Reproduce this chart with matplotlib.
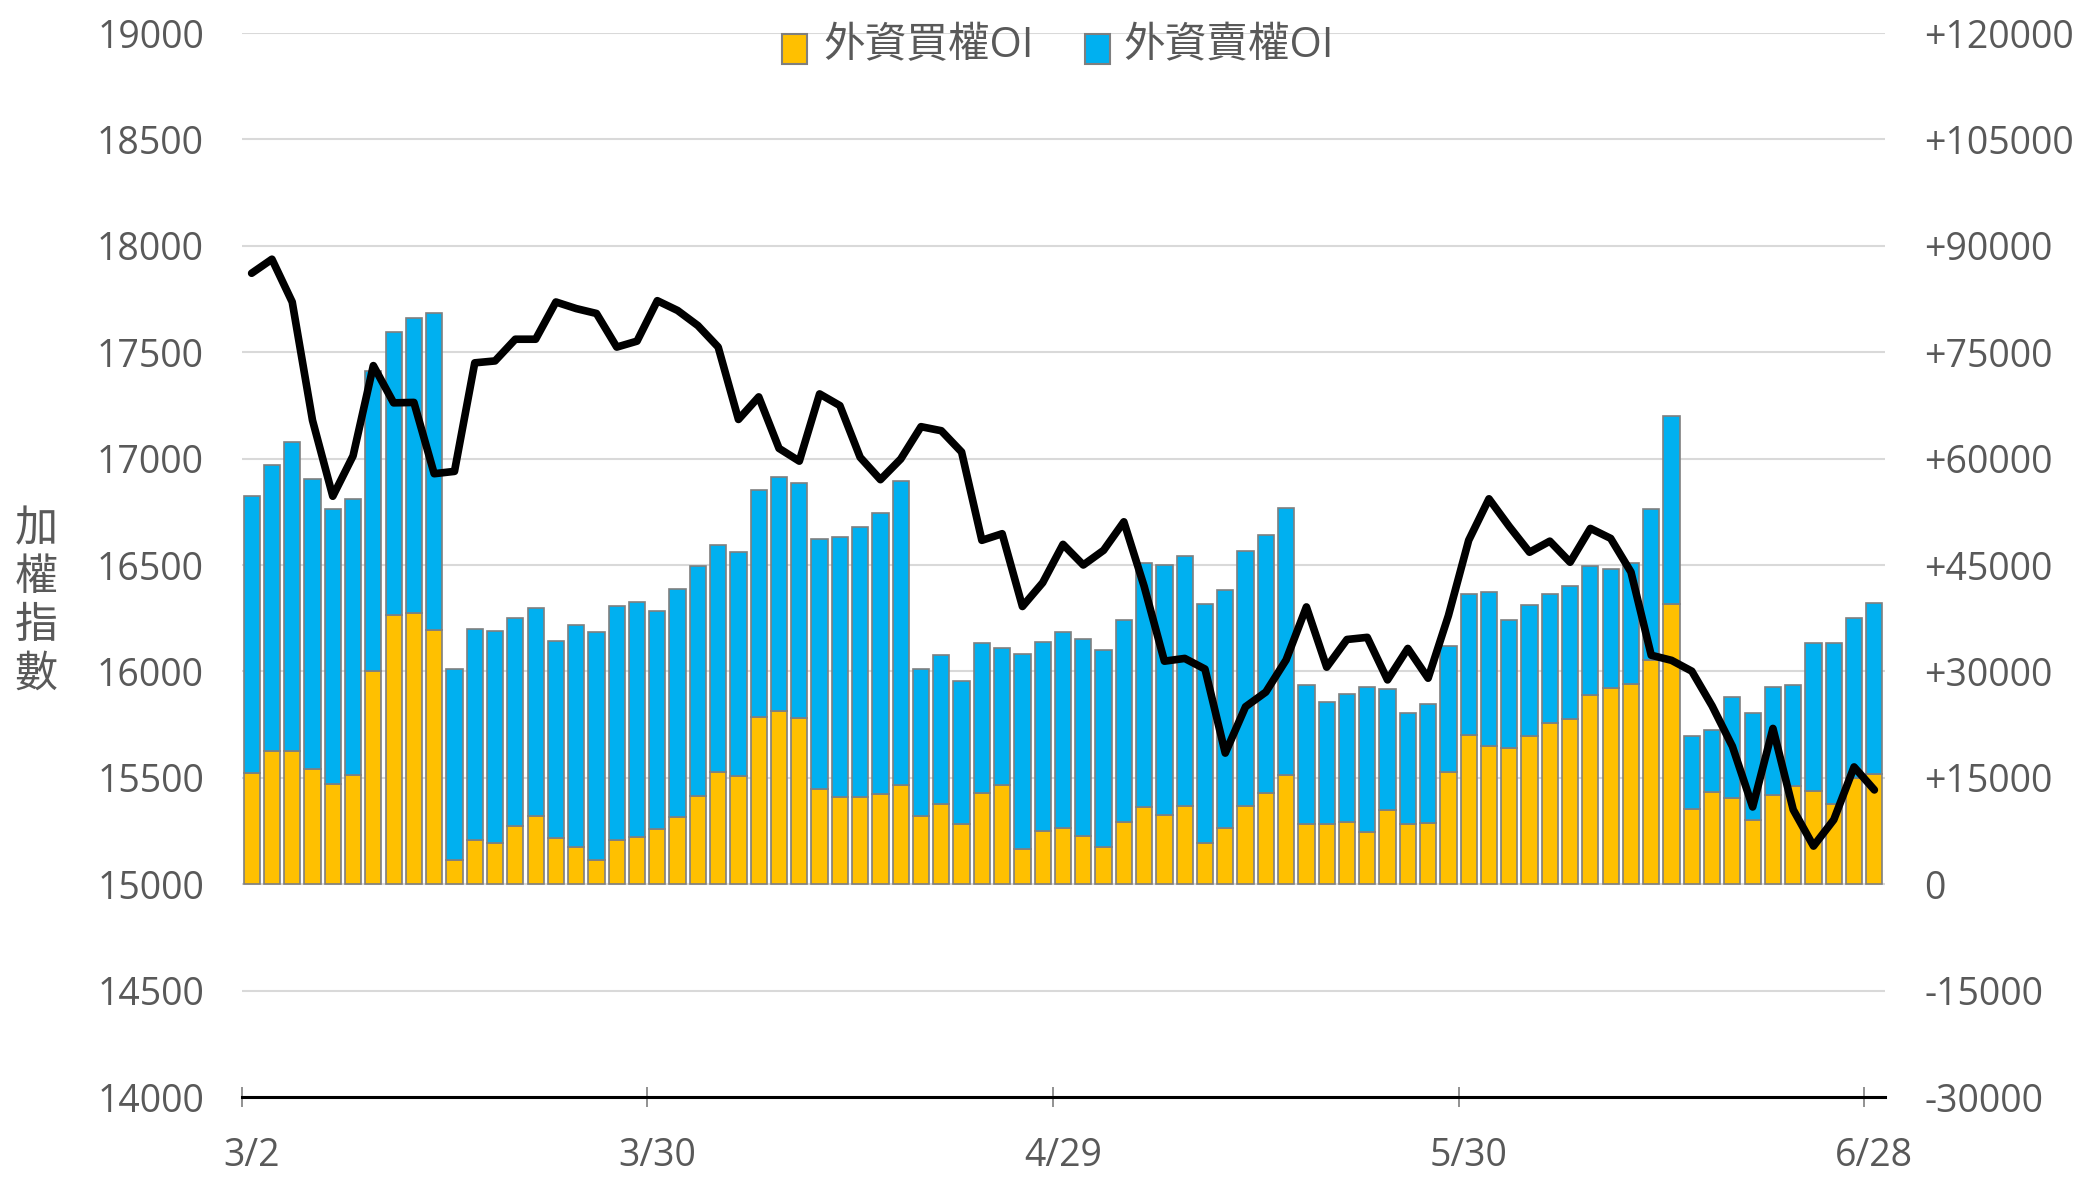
import numpy as np
import matplotlib
matplotlib.use("Agg")
import matplotlib.pyplot as plt
from matplotlib.patches import Rectangle
from matplotlib.ticker import FuncFormatter

# ---------------- data ----------------
dates = [
    "3/2", "3/3", "3/4", "3/7", "3/8", "3/9", "3/10", "3/11", "3/14", "3/15",
    "3/16", "3/17", "3/18", "3/21", "3/22", "3/23", "3/24", "3/25", "3/28", "3/29",
    "3/30", "3/31", "4/1", "4/6", "4/7", "4/8", "4/11", "4/12", "4/13", "4/14",
    "4/15", "4/18", "4/19", "4/20", "4/21", "4/22", "4/25", "4/26", "4/27", "4/28",
    "4/29", "5/3", "5/4", "5/5", "5/6", "5/9", "5/10", "5/11", "5/12", "5/13",
    "5/16", "5/17", "5/18", "5/19", "5/20", "5/23", "5/24", "5/25", "5/26", "5/27",
    "5/30", "5/31", "6/1", "6/2", "6/6", "6/7", "6/8", "6/9", "6/10", "6/13",
    "6/14", "6/15", "6/16", "6/17", "6/20", "6/21", "6/22", "6/23", "6/24", "6/27",
    "6/28",
]
shown_dates = ["3/2", "3/30", "4/29", "5/30", "6/28"]

call_oi = [
    15690, 18820, 18710, 16250, 14070, 15360, 30100, 37980, 38260, 35800,
    3410, 6260, 5860, 8270, 9660, 6530, 5310, 3350, 6200, 6700,
    7760, 9490, 12450, 15860, 15250, 23630, 24350, 23460, 13460, 12340,
    12340, 12730, 13960, 9550, 11280, 8490, 12850, 14020, 4920, 7480,
    7930, 6810, 5310, 8820, 10950, 9720, 11000, 5750, 7990, 11000,
    12790, 15360, 8490, 8430, 8770, 7320, 10440, 8550, 8660, 15750,
    21060, 19550, 19160, 20830, 22730, 23350, 26700, 27590, 28260, 31670,
    39540, 10610, 13010, 12120, 9050, 12620, 13850, 13130, 11340, 15000,
    15520,
]
put_oi = [
    39040, 40270, 43680, 40880, 38760, 38930, 42280, 39930, 41500, 44740,
    26860, 29660, 29820, 29270, 29210, 27700, 31220, 32230, 32950, 33120,
    30770, 32110, 32450, 31890, 31560, 31950, 33120, 33060, 35190, 36640,
    37980, 39600, 42950, 20830, 21000, 20160, 21110, 19270, 27480, 26700,
    27650, 27810, 27650, 28370, 34290, 35240, 35240, 33790, 33510, 36020,
    36410, 37700, 19600, 17260, 18100, 20550, 17090, 15580, 16700, 17820,
    19880, 21670, 18040, 18600, 18210, 18710, 18210, 16870, 17090, 21280,
    26530, 10220, 8710, 14240, 15130, 15190, 14240, 20940, 22730, 22500,
    24150,
]
taiex = [
    17871, 17937, 17736, 17180, 16823, 17013, 17437, 17262, 17264, 16929,
    16940, 17450, 17459, 17561, 17561, 17736, 17705, 17682, 17524, 17552,
    17742, 17696, 17625, 17524, 17184, 17290, 17048, 16988, 17304, 17249,
    17006, 16901, 16998, 17150, 17131, 17031, 16616, 16647, 16305, 16417,
    16597, 16500, 16569, 16703, 16400, 16048, 16061, 16011, 15616, 15834,
    15903, 16054, 16303, 16020, 16150, 16160, 15960, 16108, 15968, 16262,
    16616, 16811, 16681, 16560, 16612, 16513, 16672, 16625, 16467, 16076,
    16052, 16001, 15838, 15648, 15363, 15732, 15350, 15179, 15303, 15551,
    15443,
]
legend_labels = ["外資買權OI", "外資賣權OI"]
y_label = "加權指數"

# ---------------- style ----------------
plt.rcParams["font.family"] = ["Open Sans", "Noto Sans CJK TC", "DejaVu Sans"]
GRAY_TXT = "#595959"
YELLOW = "#FFC000"
BLUE = "#00B0F0"
EDGE = "#7F7F7F"

W, H = 2081, 1177
fig = plt.figure(figsize=(W / 100, H / 100), dpi=100)
L, R, T, B = 241.5, 1884.5, 33, 1097
ax = fig.add_axes([L / W, 1 - B / H, (R - L) / W, (B - T) / H])

x = np.arange(len(dates))
ax.bar(x, call_oi, width=0.8, color=YELLOW, edgecolor=EDGE, linewidth=1.2, zorder=2)
ax.bar(x, put_oi, bottom=call_oi, width=0.8, color=BLUE, edgecolor=EDGE,
       linewidth=1.2, zorder=2)
ax.set_xlim(-0.5, len(dates) - 0.5)
ax.set_ylim(-30000, 120000)

ax2 = ax.twinx()
ax2.plot(x, taiex, color="black", linewidth=5.5, solid_joinstyle="round",
         solid_capstyle="round", zorder=3)
ax2.set_ylim(14000, 19000)

# right axis (bars)
ax.yaxis.tick_right()
ax.set_yticks(np.arange(-30000, 120001, 15000))
ax.yaxis.set_major_formatter(FuncFormatter(
    lambda v, p: "0" if v == 0 else (f"+{int(v)}" if v > 0 else f"{int(v)}")))
ax.tick_params(axis="y", length=0, pad=28.5, labelsize=27, labelcolor=GRAY_TXT)
ax.grid(axis="y", color="#D9D9D9", linewidth=1.5)
ax.set_axisbelow(True)

# left axis (index)
ax2.yaxis.tick_left()
ax2.set_yticks(np.arange(14000, 19001, 500))
ax2.tick_params(axis="y", length=0, pad=27, labelsize=27, labelcolor=GRAY_TXT)

# x axis
idx = [dates.index(d) for d in shown_dates]
ax.set_xticks([i - 0.5 for i in idx])
ax.set_xticks(idx, minor=True)
ax.set_xticklabels(shown_dates, minor=True)
ax.tick_params(axis="x", which="major", direction="inout", length=15, width=1.2,
               color=EDGE, labelbottom=False)
ax.tick_params(axis="x", which="minor", length=0, pad=29, labelsize=27,
               labelcolor=GRAY_TXT)

for a in (ax, ax2):
    for s in ("top", "left", "right", "bottom"):
        a.spines[s].set_visible(False)
ax.spines["bottom"].set_visible(True)
ax.spines["bottom"].set_color("black")
ax.spines["bottom"].set_linewidth(2.2)

# y label, stacked characters
ycent = [530, 579, 627, 675]
for ch, yc in zip(y_label, ycent):
    fig.text(36 / W, 1 - yc / H, ch, ha="center", va="center", fontsize=31,
             color=GRAY_TXT)

# legend
for (x0, tx0), col, lab in zip([(782, 823), (1084.5, 1123.5)], [YELLOW, BLUE],
                               legend_labels):
    fig.add_artist(Rectangle((x0 / W, 1 - 63.5 / H), 25 / W, 29.5 / H,
                             transform=fig.transFigure, facecolor=col,
                             edgecolor=EDGE, linewidth=1.5))
    fig.text(tx0 / W, 1 - 46 / H, lab, ha="left", va="center", fontsize=30,
             color=GRAY_TXT)

fig.savefig("out.png", dpi=100)
